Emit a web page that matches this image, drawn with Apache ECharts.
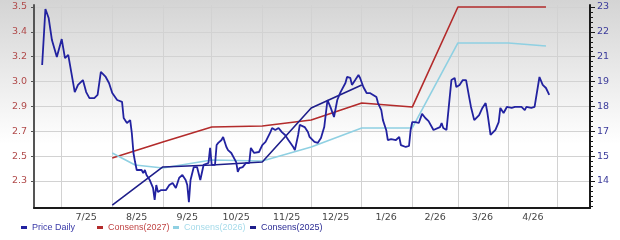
<!DOCTYPE html>
<html><head><meta charset="utf-8">
<script src="https://cdn.jsdelivr.net/npm/echarts@6/dist/echarts.min.js"></script>
<style>html,body{margin:0;padding:0;background:#fff}#c{width:620px;height:240px}</style>
</head><body><div id="c"></div>
<script>
// ---------- data ----------
const leftTickLabels = ['2.3','2.5','2.7','2.9','3.0','3.2','3.4','3.5'];
const rightTickLabels = ['14','15','17','18','19','21','22','23'];
const monthStarts = ['2025-07-01','2025-08-01','2025-09-01','2025-10-01','2025-11-01','2025-12-01',
  '2026-01-01','2026-02-01','2026-03-01','2026-04-01','2026-05-01'];
const monthLabelDates = ['2025-07-16','2025-08-16','2025-09-16','2025-10-16','2025-11-16','2025-12-16',
  '2026-01-16','2026-02-15','2026-03-16','2026-04-16'];
const seriesNames = ['Price Daily','Consens(2027)','Consens(2026)','Consens(2025)'];

const priceDaily = [
 ['2025-06-19',20.00],['2025-06-21',22.90],['2025-06-23',22.43],['2025-06-25',21.29],['2025-06-28',20.41],
 ['2025-07-01',21.34],['2025-07-03',20.36],['2025-07-05',20.52],['2025-07-09',18.60],['2025-07-11',18.97],
 ['2025-07-14',19.22],['2025-07-15',19.12],['2025-07-16',18.60],['2025-07-18',18.29],['2025-07-21',18.29],
 ['2025-07-23',18.45],['2025-07-25',19.64],['2025-07-28',19.38],['2025-07-30',19.07],['2025-08-01',18.55],
 ['2025-08-04',18.19],['2025-08-05',18.29],['2025-08-07',18.09],['2025-08-08',17.26],['2025-08-10',17.00],
 ['2025-08-12',17.15],['2025-08-13',16.48],['2025-08-14',15.45],['2025-08-15',14.98],['2025-08-16',14.57],
 ['2025-08-17',14.47],['2025-08-19',14.57],['2025-08-20',14.41],['2025-08-21',14.57],['2025-08-22',14.31],
 ['2025-08-24',14.05],['2025-08-26',13.64],['2025-08-27',13.02],['2025-08-28',13.79],['2025-08-29',13.43],
 ['2025-08-31',13.53],['2025-09-03',13.53],['2025-09-05',13.79],['2025-09-07',13.90],['2025-09-09',13.64],
 ['2025-09-11',14.16],['2025-09-13',14.31],['2025-09-15',14.05],['2025-09-16',13.79],['2025-09-17',12.91],
 ['2025-09-18',14.05],['2025-09-20',14.72],['2025-09-22',14.72],['2025-09-24',14.05],['2025-09-26',14.83],
 ['2025-09-29',14.93],['2025-09-30',15.71],['2025-10-01',14.83],['2025-10-03',14.83],['2025-10-04',15.86],
 ['2025-10-05',15.97],['2025-10-07',16.12],['2025-10-08',16.28],['2025-10-10',15.76],['2025-10-11',15.60],
 ['2025-10-13',15.45],['2025-10-16',14.98],['2025-10-17',14.47],['2025-10-18',14.67],['2025-10-20',14.72],
 ['2025-10-22',14.93],['2025-10-24',14.93],['2025-10-25',15.71],['2025-10-27',15.45],['2025-10-30',15.50],
 ['2025-11-01',15.86],['2025-11-03',16.02],['2025-11-06',16.53],['2025-11-07',16.74],['2025-11-09',16.64],
 ['2025-11-11',16.74],['2025-11-13',16.53],['2025-11-15',16.38],['2025-11-17',16.12],['2025-11-20',15.76],
 ['2025-11-21',15.60],['2025-11-23',16.38],['2025-11-24',16.90],['2025-11-27',16.79],['2025-11-29',16.53],
 ['2025-11-30',16.28],['2025-12-03',16.02],['2025-12-05',15.97],['2025-12-07',16.22],['2025-12-09',16.79],
 ['2025-12-11',18.19],['2025-12-12',18.19],['2025-12-13',17.78],['2025-12-15',17.31],['2025-12-17',18.19],
 ['2025-12-19',18.60],['2025-12-22',19.07],['2025-12-23',19.38],['2025-12-25',19.33],['2025-12-26',18.97],
 ['2025-12-28',19.22],['2025-12-30',19.48],['2025-12-31',19.33],['2026-01-02',18.86],['2026-01-04',18.55],
 ['2026-01-06',18.55],['2026-01-08',18.45],['2026-01-10',18.34],['2026-01-11',18.03],['2026-01-13',17.67],
 ['2026-01-14',17.15],['2026-01-16',16.64],['2026-01-17',16.12],['2026-01-19',16.17],['2026-01-22',16.12],
 ['2026-01-24',16.28],['2026-01-25',15.86],['2026-01-28',15.76],['2026-01-30',15.81],['2026-01-31',16.64],
 ['2026-02-01',17.05],['2026-02-03',17.05],['2026-02-05',17.00],['2026-02-07',17.47],['2026-02-09',17.26],
 ['2026-02-11',17.10],['2026-02-12',17.00],['2026-02-14',16.64],['2026-02-15',16.74],['2026-02-18',16.79],
 ['2026-02-19',17.00],['2026-02-20',16.74],['2026-02-22',16.64],['2026-02-23',16.64],['2026-02-25',19.22],
 ['2026-02-27',19.33],['2026-02-28',18.86],['2026-03-02',18.97],['2026-03-04',19.22],['2026-03-06',19.22],
 ['2026-03-08',18.29],['2026-03-09',17.83],['2026-03-11',17.15],['2026-03-14',17.41],['2026-03-16',17.78],
 ['2026-03-18',18.03],['2026-03-19',17.57],['2026-03-21',16.38],['2026-03-24',16.64],['2026-03-26',17.05],
 ['2026-03-27',17.78],['2026-03-28',17.83],['2026-03-29',17.52],['2026-03-31',17.83],['2026-04-03',17.78],
 ['2026-04-05',17.83],['2026-04-09',17.83],['2026-04-11',17.67],['2026-04-12',17.83],['2026-04-15',17.78],
 ['2026-04-17',17.83],['2026-04-20',19.38],['2026-04-22',18.97],['2026-04-24',18.81],['2026-04-26',18.45]
];
const consens2027 = [
 ['2025-08-01',2.459],['2025-09-01',2.569],['2025-10-01',2.672],['2025-11-01',2.679],['2025-12-01',2.721],
 ['2026-01-01',2.838],['2026-02-01',2.810],['2026-03-01',3.500],['2026-04-24',3.500]
];
const consens2026 = [
 ['2025-08-01',2.493],['2025-08-15',2.410],['2025-09-01',2.390],['2025-10-01',2.445],['2025-11-01',2.438],
 ['2025-12-01',2.534],['2026-01-01',2.666],['2026-02-01',2.666],['2026-03-01',3.252],['2026-04-01',3.252],
 ['2026-04-24',3.231]
];
const consens2025 = [
 ['2025-08-01',2.134],['2025-09-01',2.397],['2025-10-01',2.410],['2025-11-01',2.431],['2025-12-01',2.803],
 ['2026-01-01',2.962]
];

// ---------- layout / scale helpers ----------
function ts(s){const p=s.split('-').map(Number);return Date.UTC(p[0],p[1]-1,p[2]);}
const toXY = arr => arr.map(d => [ts(d[0]), d[1]]);
const GT = 5, GB = 208, GAP = 24.857;           // px: top, bottom, gridline spacing
const belowFrac = (GB - 181) / GAP, aboveFrac = (7 - GT) / GAP;
const lStep = (3.5 - 2.3) / 7, rStep = (23 - 14) / 7;
const leftTicks = leftTickLabels.map((_, i) => 2.3 + i * lStep);
const rightTicks = rightTickLabels.map((_, i) => 14 + i * rStep);
const lMin = 2.3 - belowFrac * lStep, lMax = 3.5 + aboveFrac * lStep;
const rMin = 14 - belowFrac * rStep, rMax = 23 + aboveFrac * rStep;
const minorTicks = [];
for (let k = -5; k <= 36; k++) { const v = 14 + k * rStep / 5; if (v >= rMin && v <= rMax) minorTicks.push(v); }

const C_PRICE = '#2222a0', C_27 = '#b32b2b', C_26 = '#8fd0e2', C_25 = '#1e1e8a';
const axisFont = 'DejaVu Sans';

const chart = echarts.init(document.getElementById('c'), null, {renderer: 'canvas'});
chart.setOption({
  animation: false,
  backgroundColor: {type: 'linear', x: 0, y: 0, x2: 0, y2: 1,
    colorStops: [{offset: 0, color: '#d4d4d4'}, {offset: 0.6, color: '#ffffff'}, {offset: 1, color: '#ffffff'}]},
  grid: {left: 34, right: 30, top: GT, bottom: 240 - GB},
  legend: seriesNames.map((n, i) => ({
    data: [n], left: [21, 97, 173, 250][i], top: 223, itemWidth: 6, itemHeight: 3, icon: 'rect',
    itemGap: 0, padding: 0,
    textStyle: {fontFamily: 'Liberation Sans', fontSize: 9, color: ['#3a3aa8', '#c04545', '#a6dbea', '#2c2c94'][i]}
  })),
  xAxis: {
    type: 'value', min: ts('2025-06-14'), max: ts('2026-05-21'),
    axisLine: {show: true, onZero: false, lineStyle: {color: '#1a1a1a', width: 2}},
    axisTick: {show: false, customValues: monthStarts.map(ts)},
    splitLine: {show: true, lineStyle: {color: '#d2d2d2', width: 1}},
    axisLabel: {customValues: monthLabelDates.map(ts), margin: 5, color: '#444', fontFamily: axisFont, fontSize: 9.5,
      formatter: v => { const d = new Date(v); return (d.getUTCMonth() + 1) + '/' + String(d.getUTCFullYear()).slice(2); }}
  },
  yAxis: [
    {type: 'value', position: 'left', min: lMin, max: lMax,
     axisLine: {show: true, onZero: false, lineStyle: {color: '#555', width: 2}},
     axisTick: {show: true, length: 3, customValues: leftTicks, lineStyle: {color: '#555'}},
     splitLine: {show: true, lineStyle: {color: '#d2d2d2', width: 1}},
     axisLabel: {customValues: leftTicks, margin: 7, color: '#b04a4a', fontFamily: axisFont, fontSize: 9.5,
       formatter: v => leftTickLabels[Math.round((v - 2.3) / lStep)]}},
    {type: 'value', position: 'right', min: rMin, max: rMax,
     axisLine: {show: true, onZero: false, lineStyle: {color: '#1a1a1a', width: 2}},
     axisTick: {show: true, length: 5, customValues: rightTicks, lineStyle: {color: '#1a1a1a'}},
     splitLine: {show: false},
     axisLabel: {customValues: rightTicks, margin: 7, color: '#3a3a9a', fontFamily: axisFont, fontSize: 9.5,
       formatter: v => rightTickLabels[Math.round((v - 14) / rStep)]}},
    {type: 'value', position: 'right', min: rMin, max: rMax,
     axisLine: {show: false},
     axisTick: {show: true, length: 3, customValues: minorTicks, lineStyle: {color: '#1a1a1a'}},
     splitLine: {show: false}, axisLabel: {show: false}}
  ],
  series: [
    {name: 'Consens(2027)', type: 'line', yAxisIndex: 0, data: toXY(consens2027), showSymbol: false,
     lineStyle: {color: C_27, width: 1.6}, itemStyle: {color: C_27}},
    {name: 'Consens(2026)', type: 'line', yAxisIndex: 0, data: toXY(consens2026), showSymbol: false,
     lineStyle: {color: C_26, width: 1.6}, itemStyle: {color: C_26}},
    {name: 'Consens(2025)', type: 'line', yAxisIndex: 0, data: toXY(consens2025), showSymbol: false,
     lineStyle: {color: C_25, width: 1.6}, itemStyle: {color: C_25}},
    {name: 'Price Daily', type: 'line', yAxisIndex: 1, data: toXY(priceDaily), showSymbol: false,
     lineStyle: {color: C_PRICE, width: 1.8}, itemStyle: {color: C_PRICE}}
  ]
});
</script></body></html>
